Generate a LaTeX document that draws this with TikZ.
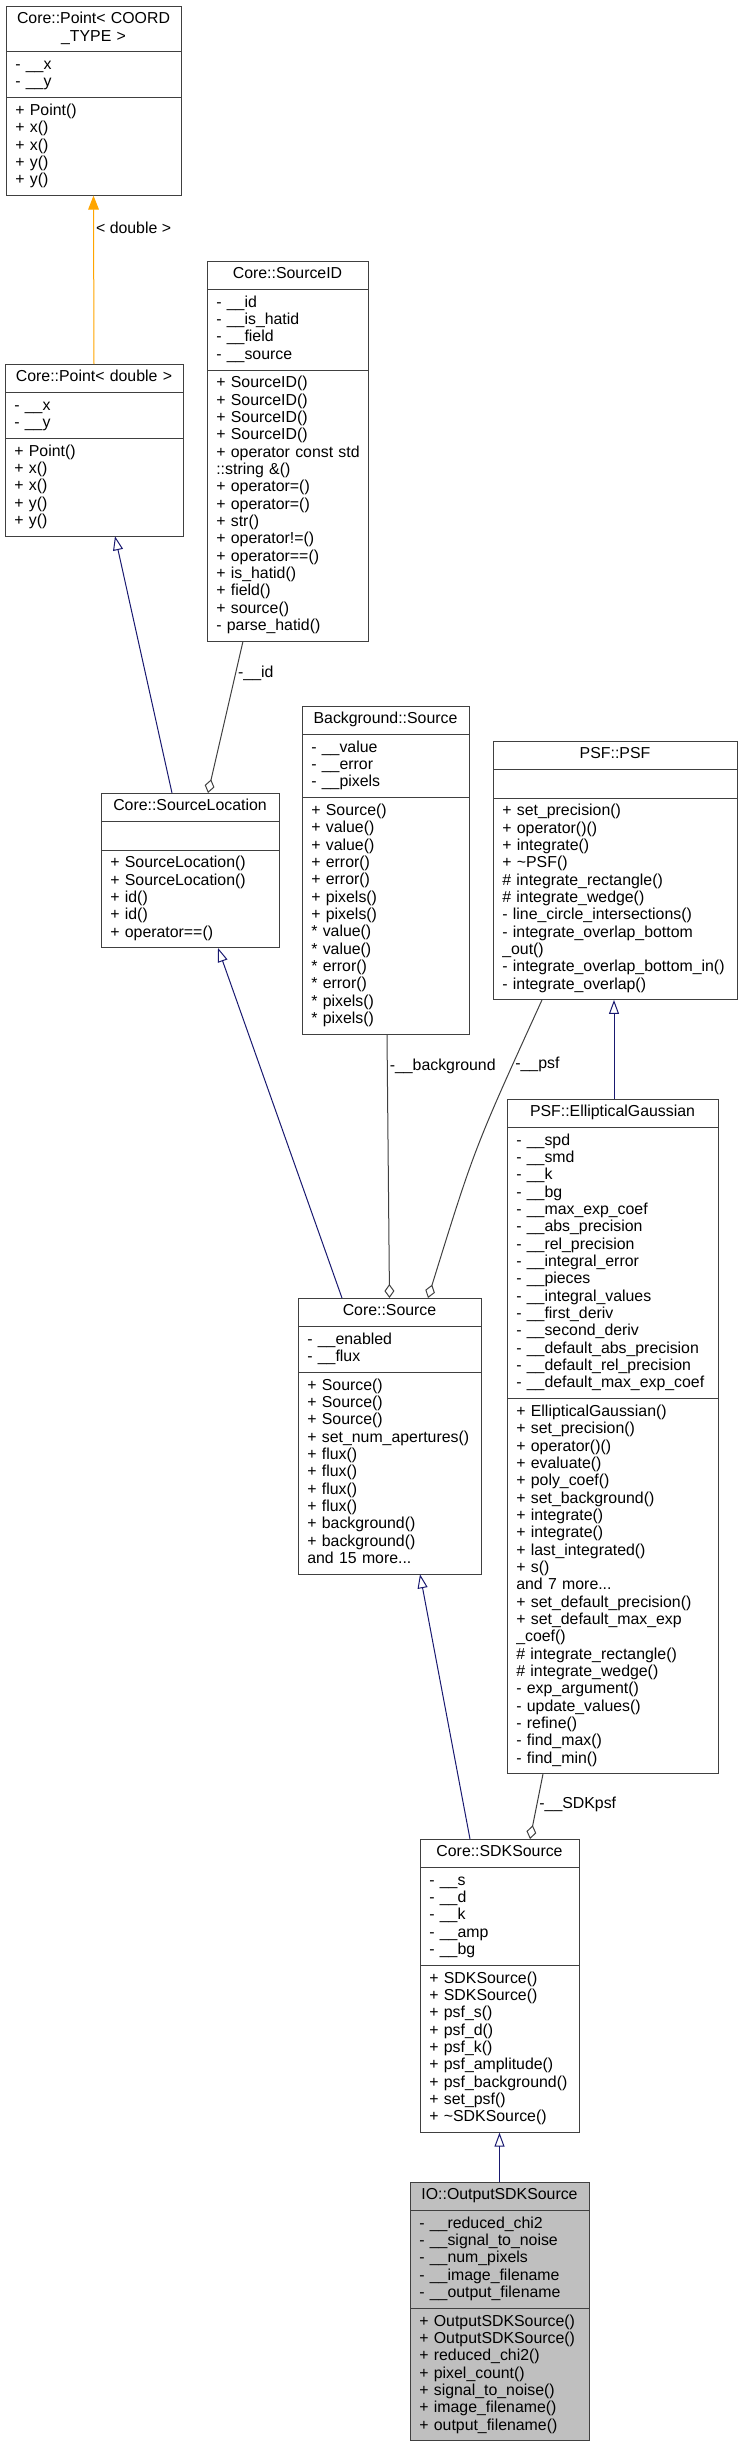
\documentclass[tikz,border=0pt]{standalone}
\usepackage{fontspec}
\setmainfont{Liberation Sans}
\usetikzlibrary{positioning,arrows.meta,calc}
\definecolor{boxline}{HTML}{404040}
\definecolor{edgegray}{HTML}{404040}
\definecolor{edgeblue}{HTML}{191970}
\definecolor{edgeorange}{HTML}{FFA500}
\definecolor{focusbg}{HTML}{BFBFBF}
\newcommand{\classfont}{\fontsize{11.9}{13}\selectfont}
\tikzset{
	classbox/.style={draw=boxline,line width=0.75pt,inner xsep=7pt,inner ysep=4.2pt,outer sep=0pt,
		font=\classfont,execute at begin node={\hyphenpenalty=10000\relax\strut},execute at end node=\strut},
	classtitle/.style={classbox,anchor=north west,align=center},
	classpart/.style={classbox,align=left},
	inherit/.style={draw=edgeblue,line width=0.75pt,-{Triangle[open,length=10.5pt,width=7.5pt]}},
	member/.style={draw=edgegray,line width=0.75pt,-{Diamond[open,length=10.5pt,width=7.5pt]}},
	instance/.style={draw=edgeorange,line width=0.75pt,-{Triangle[length=10.5pt,width=8pt]}},
	edgelabel/.style={anchor=west,inner sep=1.5pt,font=\classfont},
}
% one class: title, attributes, methods
\newcommand{\umlclass}[7][]{
	\node [classtitle,#1,text width=#4] (#2-t) at (#3) {#5};
	\node [classpart,#1,text width=#4,below=0pt of #2-t] (#2-a) {#6};
	\node [classpart,#1,text width=#4,below=0pt of #2-a] (#2-m) {#7};
}

\begin{document}
\begin{tikzpicture}[x=0.75pt,y=-0.75pt]

\useasboundingbox (0,0) rectangle (743,2445);

% templates and locations
\umlclass{ptc}{6,6}{117.25pt}{Core::Point<~COORD\\\_TYPE~>}
	{-~\_\_x\\-~\_\_y}
	{+~Point()\\+~x()\\+~x()\\+~y()\\+~y()}
\umlclass{ptd}{5,364}{119.5pt}{Core::Point<~double~>}
	{-~\_\_x\\-~\_\_y}
	{+~Point()\\+~x()\\+~x()\\+~y()\\+~y()}
\umlclass{sid}{207,261}{106.75pt}{Core::SourceID}
	{-~\_\_id\\-~\_\_is\_hatid\\-~\_\_field\\-~\_\_source}
	{+~SourceID()\\+~SourceID()\\+~SourceID()\\+~SourceID()\\
	\mbox{+~operator~const~std}\\::string~\&()\\+~operator=()\\+~operator=()\\
	+~str()\\+~operator!=()\\+~operator==()\\+~is\_hatid()\\+~field()\\
	+~source()\\-~parse\_hatid()}
\umlclass{sloc}{101,793}{119.5pt}{Core::SourceLocation}
	{}
	{+~SourceLocation()\\+~SourceLocation()\\+~id()\\+~id()\\+~operator==()}

% background and psf
\umlclass{bgs}{302,706}{111.25pt}{Background::Source}
	{-~\_\_value\\-~\_\_error\\-~\_\_pixels}
	{+~Source()\\+~value()\\+~value()\\+~error()\\+~error()\\+~pixels()\\
	+~pixels()\\{*}~value()\\{*}~value()\\{*}~error()\\{*}~error()\\
	{*}~pixels()\\{*}~pixels()}
\umlclass{psf}{493,741}{169pt}{PSF::PSF}
	{}
	{+~set\_precision()\\+~operator()()\\+~integrate()\\+~\textasciitilde PSF()\\
	\#~integrate\_rectangle()\\\#~integrate\_wedge()\\
	-~line\_circle\_intersections()\\-~integrate\_overlap\_bottom\\\_out()\\
	-~integrate\_overlap\_bottom\_in()\\-~integrate\_overlap()}
\umlclass{eg}{507,1099}{144.25pt}{PSF::EllipticalGaussian}
	{-~\_\_spd\\-~\_\_smd\\-~\_\_k\\-~\_\_bg\\-~\_\_max\_exp\_coef\\
	-~\_\_abs\_precision\\-~\_\_rel\_precision\\-~\_\_integral\_error\\
	-~\_\_pieces\\-~\_\_integral\_values\\-~\_\_first\_deriv\\
	-~\_\_second\_deriv\\-~\_\_default\_abs\_precision\\
	-~\_\_default\_rel\_precision\\-~\_\_default\_max\_exp\_coef}
	{+~EllipticalGaussian()\\+~set\_precision()\\+~operator()()\\
	+~evaluate()\\+~poly\_coef()\\+~set\_background()\\+~integrate()\\
	+~integrate()\\+~last\_integrated()\\+~s()\\and~7~more...\\
	+~set\_default\_precision()\\+~set\_default\_max\_exp\\\_coef()\\
	\#~integrate\_rectangle()\\\#~integrate\_wedge()\\-~exp\_argument()\\
	-~update\_values()\\-~refine()\\-~find\_max()\\-~find\_min()}

% sources
\umlclass{src}{298,1298}{123.25pt}{Core::Source}
	{-~\_\_enabled\\-~\_\_flux}
	{+~Source()\\+~Source()\\+~Source()\\+~set\_num\_apertures()\\+~flux()\\
	+~flux()\\+~flux()\\+~flux()\\+~background()\\+~background()\\
	and~15~more...}
\umlclass{sdk}{420,1839}{105.25pt}{Core::SDKSource}
	{-~\_\_s\\-~\_\_d\\-~\_\_k\\-~\_\_amp\\-~\_\_bg}
	{+~SDKSource()\\+~SDKSource()\\+~psf\_s()\\+~psf\_d()\\+~psf\_k()\\
	+~psf\_amplitude()\\+~psf\_background()\\+~set\_psf()\\
	+~\textasciitilde SDKSource()}
\umlclass[fill=focusbg]{out}{410,2182}{120.25pt}{IO::OutputSDKSource}
	{-~\_\_reduced\_chi2\\-~\_\_signal\_to\_noise\\-~\_\_num\_pixels\\
	-~\_\_image\_filename\\-~\_\_output\_filename}
	{+~OutputSDKSource()\\+~OutputSDKSource()\\+~reduced\_chi2()\\
	+~pixel\_count()\\+~signal\_to\_noise()\\+~image\_filename()\\
	+~output\_filename()}

% connectors
\draw [instance] (ptd-t.north) -- (ptc-m.south)
	node [edgelabel,pos=0.81] (dbllab) {<~double~>};
\draw [inherit] ($(sloc-t.north)+(-18,0)$) -- ($(ptd-m.south)+(21,0)$);
\draw [member] ($(sid-m.south)+(-44.5,0)$) -- ($(sloc-t.north)+(18,0)$)
	node [edgelabel,pos=0.21] (idlab) {-\_\_id};
\draw [inherit] ($(src-t.north)+(-47.5,0)$) -- ($(sloc-m.south)+(28,0)$);
\draw [member] ($(bgs-m.south)+(1.5,0)$) -- (src-t.north)
	node [edgelabel,pos=0.12] (bglab) {-\_\_background};
\draw [member] ($(psf-m.south)+(-73,0)$) .. controls (474.5,1148) .. ($(src-t.north)+(38.5,0)$)
	node [edgelabel,pos=0.17] (psflab) {-\_\_psf};
\draw [inherit] ($(eg-t.north)+(1.5,0)$) -- ($(psf-m.south)+(-1,0)$);
\draw [inherit] ($(sdk-t.north)+(-29.5,0)$) -- ($(src-m.south)+(30.5,0)$);
\draw [member] ($(eg-m.south)+(-69.5,0)$) -- ($(sdk-t.north)+(30.5,0)$)
	node [edgelabel,pos=0.47] (sdklab) {-\_\_SDKpsf};
\draw [inherit] (out-t.north) -- (sdk-m.south);

\end{tikzpicture}
\end{document}
